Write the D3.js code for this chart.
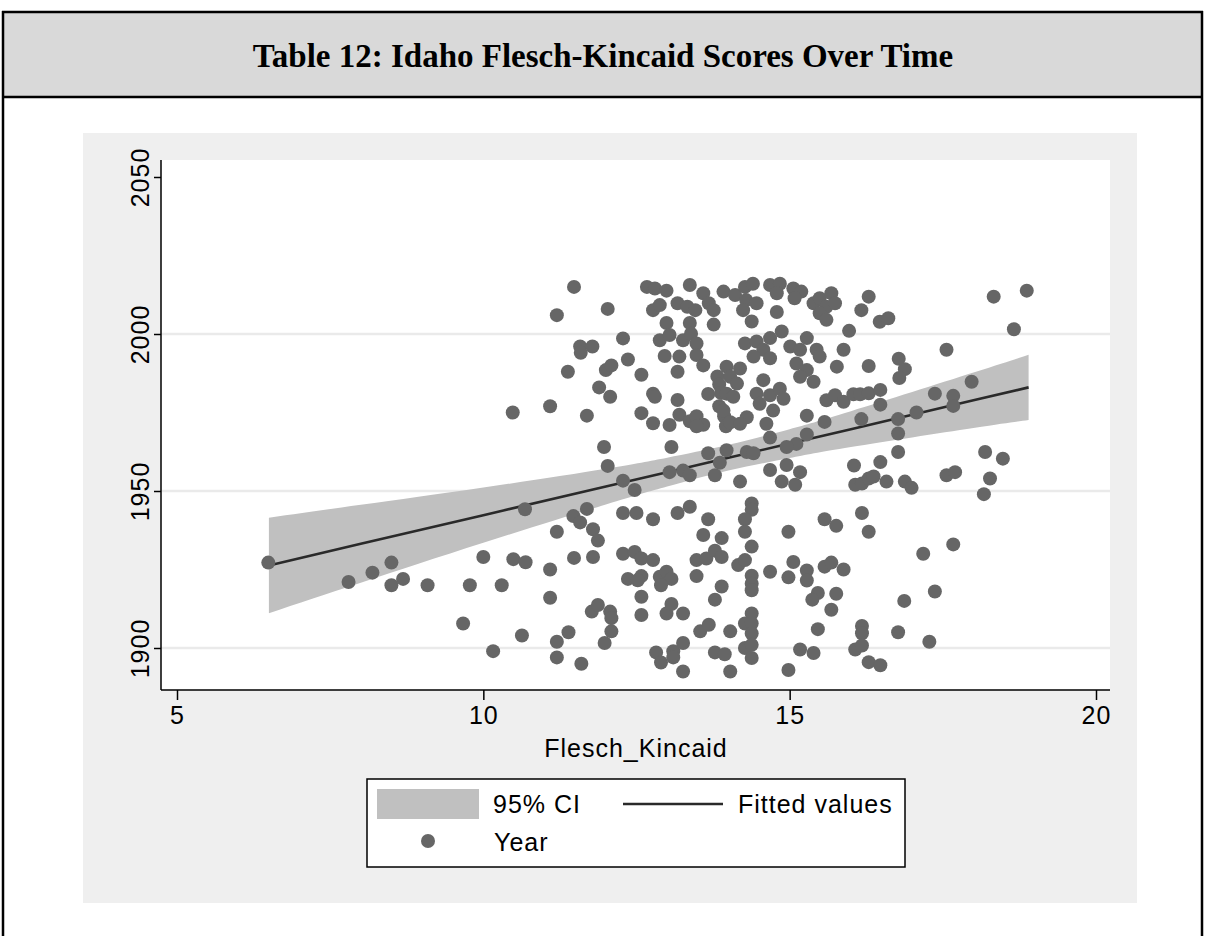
<!DOCTYPE html>
<html><head><meta charset="utf-8">
<script src="https://cdn.jsdelivr.net/npm/d3@7"></script>
<style>body{margin:0;background:#fff}</style>
</head><body>
<svg id="c" width="1205" height="936" xmlns="http://www.w3.org/2000/svg"></svg>
<script>
const titleText = "Table 12: Idaho Flesch-Kincaid Scores Over Time";
const xTitle = "Flesch_Kincaid";
const xTicks = [5, 10, 15, 20];
const yTicks = [1900, 1950, 2000, 2050];
const gridYears = [1900, 1950, 2000];
const legendLabels = ["95% CI", "Fitted values", "Year"];

// Fitted line and 95% CI
const fitX     = [6.5,    8,      10,     12,     13,     14,     15,     16,     18,     18.9];
const fitted   = [1926.3, 1933.2, 1942.3, 1951.4, 1956.0, 1960.6, 1965.1, 1969.7, 1978.9, 1983.0];
const ciUpper  = [1941.5, 1945.6, 1951.1, 1957.1, 1960.6, 1964.7, 1969.7, 1975.4, 1987.7, 1993.4];
const ciLower  = [1911.1, 1920.8, 1933.5, 1945.7, 1951.4, 1956.5, 1960.5, 1964.0, 1970.1, 1972.6];

const fleschKincaid = [
  6.49,7.80,8.19,8.50,8.50,8.69,9.09,9.67,9.78,10.00,
  10.16,10.30,10.49,10.63,10.68,10.69,11.09,11.09,11.20,11.20,
  11.20,11.39,11.47,11.48,11.58,11.60,11.69,11.79,11.79,11.77,
  11.87,11.87,12.07,12.09,12.09,11.98,
  10.48,11.09,11.20,11.48,11.38,11.58,11.78,11.59,11.69,11.89,
  12.03,12.00,12.07,11.97,12.03,
  12.67,12.80,12.99,13.37,13.59,12.77,12.88,13.17,13.33,13.46,
  13.68,13.76,13.76,12.99,13.37,12.28,12.88,13.04,13.26,13.39,
  13.48,12.96,13.20,13.48,13.59,13.17,12.36,12.09,12.58,12.77,
  12.80,13.17,13.67,12.58,12.77,13.04,13.20,13.37,13.48,13.59,
  13.48,13.82,13.85,13.88,13.85,13.93,13.96,13.07,12.28,13.04,
  13.26,13.37,13.67,13.86,13.78,
  12.47,12.28,12.50,12.77,13.17,13.37,13.67,13.59,13.89,12.28,
  12.47,12.58,12.77,13.48,13.64,13.78,13.89,12.36,12.58,12.52,
  12.88,12.99,13.07,12.90,13.48,13.89,13.78,12.58,12.58,12.99,
  13.07,13.26,13.54,13.68,12.82,12.90,13.10,13.10,13.26,13.26,
  13.78,13.94,
  13.92,14.11,14.27,14.40,14.29,14.46,14.24,14.38,14.68,14.84,
  14.79,15.06,15.19,15.08,14.79,15.39,15.49,15.68,15.60,15.74,
  15.49,15.60,14.27,14.46,14.68,14.87,14.57,14.41,14.68,15.01,
  15.17,15.28,15.44,15.49,15.11,15.28,15.17,15.39,15.88,15.77,
  13.97,14.19,14.03,14.14,13.97,14.08,14.57,14.46,14.68,14.84,
  14.90,14.51,14.73,14.62,13.92,14.03,14.30,14.19,15.28,14.68,
  15.60,15.74,15.88,15.57,15.11,14.95,15.28,13.97,14.30,14.41,
  14.68,14.95,15.17,
  14.19,14.87,15.09,14.38,14.38,14.27,14.27,14.38,14.16,14.27,
  14.38,14.38,14.38,14.68,14.98,15.06,14.98,15.28,15.28,15.57,
  15.76,15.57,15.68,15.88,15.46,15.37,15.76,15.68,15.46,14.38,
  14.27,14.38,14.38,14.03,14.27,14.38,14.38,14.03,14.98,15.17,
  15.39,
  16.29,16.17,16.47,16.61,15.97,16.29,16.78,16.88,16.79,17.56,
  17.97,16.04,16.15,16.29,16.48,16.48,17.37,17.67,17.67,16.17,
  16.77,17.07,16.77,16.77,18.19,18.48,16.05,16.48,18.33,18.87,
  18.66,
  16.07,16.18,16.29,16.37,16.58,16.88,16.99,17.56,17.70,18.27,
  18.17,16.18,16.29,17.18,17.67,17.37,16.87,16.18,16.18,16.77,
  17.28,16.07,16.18,16.29,16.48
];

const year = [
  1927.2,1921,1924,1927.2,1920,1922,1920,1907.8,1920,1929,
  1899,1920,1928.3,1904,1944.2,1927.3,1925,1916,1937,1902,
  1897,1905,1942,1928.7,1940,1895,1944.3,1937.8,1929,1911.6,
  1934.2,1913.7,1911.6,1909.5,1905.3,1901.6,
  1975,1977,2006,2015,1988,1996,1996,1994,1974,1983,
  2008,1988.5,1980,1964,1958,
  2015,2014.5,2013.8,2015.6,2013,2007.6,2009.2,2009.8,2008.7,2007.6,
  2009.8,2007.6,2003,2003.5,2003.5,1998.6,1998,1999.7,1998,2000.1,
  1997,1993,1992.8,1993.3,1990,1988,1991.9,1990,1987,1981,
  1980,1979,1980.9,1974.8,1971.6,1971,1974.3,1972.2,1973.8,1971.1,
  1970.6,1986.5,1983.9,1981.2,1977,1973.8,1970.6,1964,1953.3,1956,
  1956.5,1955,1962,1959,1955,
  1950.3,1943,1943,1941,1943,1945,1941,1936,1935,1930,
  1930.6,1928.5,1928,1928,1928.5,1931,1929,1922,1922.9,1921.6,
  1922.7,1924.3,1922,1920,1922.9,1919.6,1915.4,1916.3,1910.5,1911,
  1914,1911,1905.3,1907.4,1898.6,1895.4,1899,1897,1901.6,1892.5,
  1898.6,1898,
  2013.5,2012.4,2015,2016,2010.8,2009.8,2007.6,2004,2015.6,2016,
  2013,2014.5,2013.5,2011.4,2007,2009.8,2011.4,2013,2008.7,2009.8,
  2006.6,2004.5,1997,1997.6,1998.7,2000.8,1995,1992.8,1992.3,1996,
  1995,1998.7,1995,1992.8,1990.6,1988.5,1986.4,1984.8,1995,1989.6,
  1989.6,1989,1986.4,1984.2,1981,1980,1985.3,1981,1980.5,1982.6,
  1979.4,1977.8,1975.6,1971.4,1975.6,1971.9,1973.5,1971.4,1974,1967,
  1978.9,1980.5,1978.4,1972,1965,1964,1968,1963,1962.4,1962,
  1956.7,1958.3,1956,
  1953,1953,1952,1946,1944,1941,1937,1932.3,1926.4,1928,
  1923,1920.5,1918.4,1924.3,1937,1927.4,1922.5,1924.7,1921.5,1941,
  1938.9,1925.9,1927.2,1925,1917.5,1915.4,1917.3,1912.2,1906,1911,
  1907.8,1907.8,1904.6,1905.3,1900,1901,1896.8,1892.5,1893,1899.5,
  1898.4,
  2011.9,2007.6,2003.9,2005,2001,1989.8,1992.1,1988.8,1986,1995,
  1984.8,1980.8,1980.8,1981.1,1982.2,1977.5,1981,1980.3,1977.1,1972.9,
  1972.9,1975,1968.3,1962.4,1962.4,1960.3,1958.1,1959.2,2011.9,2013.8,
  2001.5,
  1952,1952.4,1954,1954.6,1953,1953,1951,1955,1956,1954,
  1949,1943,1937,1930,1933,1918,1915,1907,1904.7,1905,
  1902,1899.5,1900.8,1895.5,1894.5
];

const n = Math.min(fleschKincaid.length, year.length);
const fitPts = fitX.map((xv, i) => ({x: xv, y: fitted[i], lo: ciLower[i], hi: ciUpper[i]}));

// ---- drawing ----
const svg = d3.select("#c");
const W = 1205, H = 936;
svg.append("rect").attr("width", W).attr("height", H).attr("fill", "#fff");

// table frame + header
svg.append("rect").attr("x", 3).attr("y", 12).attr("width", 1199).attr("height", 85).attr("fill", "#d9d9d9");
const frame = svg.append("g").attr("stroke", "#000").attr("stroke-width", 2.5);
frame.append("line").attr("x1", 2).attr("x2", 1203).attr("y1", 12).attr("y2", 12);
frame.append("line").attr("x1", 2).attr("x2", 1203).attr("y1", 97).attr("y2", 97);
frame.append("line").attr("x1", 3).attr("x2", 3).attr("y1", 11).attr("y2", H);
frame.append("line").attr("x1", 1202).attr("x2", 1202).attr("y1", 11).attr("y2", H);

svg.append("text").attr("x", 603).attr("y", 67).attr("text-anchor", "middle")
  .attr("font-family", "'Liberation Serif','Times New Roman',serif").attr("font-weight", "bold")
  .attr("font-size", 33).attr("fill", "#000").text(titleText);

// graph region
svg.append("rect").attr("x", 83).attr("y", 133).attr("width", 1054).attr("height", 770).attr("fill", "#efefef");
const plot = {left: 161, right: 1110, top: 160, bottom: 690};
svg.append("rect").attr("x", plot.left).attr("y", plot.top)
  .attr("width", plot.right - plot.left).attr("height", plot.bottom - plot.top).attr("fill", "#fff");

const x = d3.scaleLinear().domain([5, 20]).range([177, 1096]);
const y = d3.scaleLinear().domain([1900, 2050]).range([648, 177]);

// grid
svg.append("g").selectAll("line").data(gridYears).join("line")
  .attr("x1", plot.left).attr("x2", plot.right)
  .attr("y1", d => y(d)).attr("y2", d => y(d))
  .attr("stroke", "#eaeaea").attr("stroke-width", 2.5);

// CI band
svg.append("path").datum(fitPts)
  .attr("d", d3.area().curve(d3.curveNatural).x(d => x(d.x)).y0(d => y(d.lo)).y1(d => y(d.hi)))
  .attr("fill", "#c0c0c0");
// fitted line
svg.append("path").datum(fitPts)
  .attr("d", d3.line().x(d => x(d.x)).y(d => y(d.y)))
  .attr("fill", "none").attr("stroke", "#2a2a2a").attr("stroke-width", 2.6);

// points
svg.append("g").selectAll("circle").data(d3.range(n)).join("circle")
  .attr("cx", i => x(fleschKincaid[i])).attr("cy", i => y(year[i])).attr("r", 7)
  .attr("fill", "#666666");

const font = "'Liberation Sans', Arial, sans-serif";
const fs = 25, ls = 1;
// x axis
const xAxis = svg.append("g").attr("transform", `translate(0,${plot.bottom})`)
  .call(d3.axisBottom(x).tickValues(xTicks).tickSize(10).tickPadding(6).tickFormat(d3.format("d")));
xAxis.select(".domain").remove();
xAxis.selectAll(".tick line").attr("stroke", "#000").attr("stroke-width", 1.5);
xAxis.selectAll(".tick text").attr("font-family", font).attr("font-size", fs)
  .attr("letter-spacing", ls).attr("fill", "#000").attr("dy", "0.71em");
svg.append("line").attr("x1", plot.left).attr("x2", plot.right)
  .attr("y1", plot.bottom).attr("y2", plot.bottom).attr("stroke", "#000").attr("stroke-width", 1.5);

// y axis
const yAxis = svg.append("g").attr("transform", `translate(${plot.left},0)`)
  .call(d3.axisLeft(y).tickValues(yTicks).tickSize(7).tickFormat(d3.format("d")));
yAxis.select(".domain").remove();
yAxis.selectAll(".tick line").attr("stroke", "#000").attr("stroke-width", 1.5);
yAxis.selectAll(".tick text")
  .attr("x", null).attr("dy", null)
  .attr("transform", "translate(-12,0) rotate(-90)")
  .attr("text-anchor", "middle")
  .attr("font-family", font).attr("font-size", fs).attr("letter-spacing", ls).attr("fill", "#000");
svg.append("line").attr("x1", plot.left).attr("x2", plot.left)
  .attr("y1", plot.top).attr("y2", plot.bottom).attr("stroke", "#000").attr("stroke-width", 1.5);

// x title
svg.append("text").attr("x", 636).attr("y", 757).attr("text-anchor", "middle")
  .attr("font-family", font).attr("font-size", fs).attr("letter-spacing", ls).attr("fill", "#000").text(xTitle);

// legend
const lg = svg.append("g");
lg.append("rect").attr("x", 367).attr("y", 779).attr("width", 538).attr("height", 88)
  .attr("fill", "#fff").attr("stroke", "#000").attr("stroke-width", 1.5);
lg.append("rect").attr("x", 377).attr("y", 789).attr("width", 102).attr("height", 30).attr("fill", "#c0c0c0");
lg.append("line").attr("x1", 623).attr("x2", 723).attr("y1", 804).attr("y2", 804)
  .attr("stroke", "#2a2a2a").attr("stroke-width", 2.6);
lg.append("circle").attr("cx", 428).attr("cy", 841).attr("r", 7).attr("fill", "#666666");
const lgPos = [[493, 813], [738, 813], [494, 851]];
lg.selectAll("text").data(legendLabels).join("text")
  .attr("x", (d, i) => lgPos[i][0]).attr("y", (d, i) => lgPos[i][1])
  .attr("font-family", font).attr("font-size", fs).attr("letter-spacing", ls)
  .attr("fill", "#000").text(d => d);
</script>
</body></html>
